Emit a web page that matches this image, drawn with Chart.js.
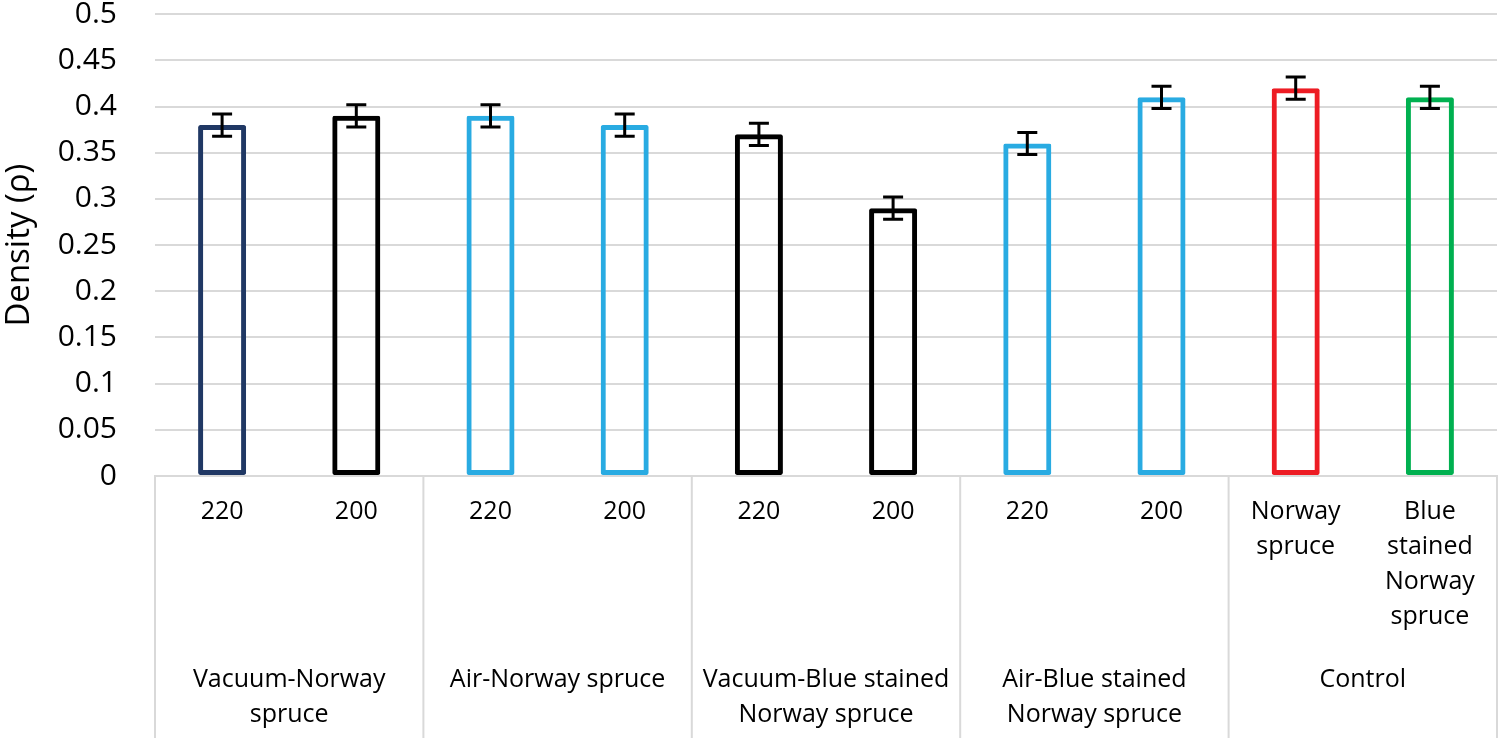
<!DOCTYPE html>
<html>
<head>
<meta charset="utf-8">
<script src="https://cdn.jsdelivr.net/npm/chart.js@4.4.1/dist/chart.umd.min.js"></script>
<style>
  html, body { margin: 0; padding: 0; background: #fff; }
  #wrap { width: 1503px; height: 738px; }
</style>
</head>
<body>
<div id="wrap"><canvas id="densityChart" width="1503" height="738"></canvas></div>
<script>
/* ===== Data ===== */
const subLabels = ["220", "200", "220", "200", "220", "200", "220", "200", ["Norway", "spruce"], ["Blue", "stained", "Norway", "spruce"]];
const groupLabels = [["Vacuum-Norway", "spruce"], ["Air-Norway spruce"], ["Vacuum-Blue stained", "Norway spruce"], ["Air-Blue stained", "Norway spruce"], ["Control"]];
const density = [0.38, 0.39, 0.39, 0.38, 0.37, 0.29, 0.36, 0.41, 0.42, 0.41];
const densityErr = [0.012, 0.012, 0.012, 0.012, 0.012, 0.012, 0.012, 0.012, 0.012, 0.012];
const yTicks = [0, 0.05, 0.1, 0.15, 0.2, 0.25, 0.3, 0.35, 0.4, 0.45, 0.5];

/* ===== Styles ===== */
const barColors = ["#203864", "#000000", "#29abe2", "#29abe2", "#000000", "#000000", "#29abe2", "#29abe2", "#ed1c24", "#00b050"];
const gridColor = "#d9d9d9";
const FONT = "'Open Sans', 'Noto Sans', sans-serif";

/* ===== Plugins ===== */
const errorBars = {
  id: "errorBars",
  afterDatasetsDraw(chart) {
    const { ctx, scales } = chart;
    const meta = chart.getDatasetMeta(0);
    ctx.save();
    ctx.strokeStyle = "#000";
    ctx.lineWidth = 3;
    meta.data.forEach((bar, i) => {
      const top = scales.y.getPixelForValue(density[i] + densityErr[i]);
      const bot = scales.y.getPixelForValue(density[i] - densityErr[i]);
      const x = bar.x;
      ctx.beginPath();
      ctx.moveTo(x, top);
      ctx.lineTo(x, bot);
      ctx.moveTo(x - 10, top);
      ctx.lineTo(x + 10, top);
      ctx.moveTo(x - 10, bot);
      ctx.lineTo(x + 10, bot);
      ctx.stroke();
    });
    ctx.restore();
  },
};

// vertical separators between the outer category groups
const groupSeparators = {
  id: "groupSeparators",
  afterDraw(chart) {
    const { ctx, chartArea, scales } = chart;
    const g = scales.x2;
    const half = (g.getPixelForValue(1) - g.getPixelForValue(0)) / 2;
    ctx.save();
    ctx.strokeStyle = gridColor;
    ctx.lineWidth = 2;
    for (let i = 0; i <= groupLabels.length; i++) {
      const x = i < groupLabels.length ? g.getPixelForValue(i) - half : g.getPixelForValue(i - 1) + half;
      ctx.beginPath();
      ctx.moveTo(x, chartArea.bottom);
      ctx.lineTo(x, chart.height);
      ctx.stroke();
    }
    ctx.restore();
  },
};

/* ===== Chart ===== */
const ctx = document.getElementById("densityChart").getContext("2d");

new Chart(ctx, {
  type: "bar",
  data: {
    labels: subLabels,
    datasets: [
      {
        label: "Density",
        data: density,
        borderColor: barColors,
        backgroundColor: "rgba(0,0,0,0)",
        borderWidth: 5,
        borderSkipped: false,
        borderRadius: 2,
        barPercentage: 0.358,
        categoryPercentage: 1,
      },
    ],
  },
  options: {
    responsive: false,
    animation: false,
    layout: { padding: { top: 14, right: 6, left: 0, bottom: 0 } },
    plugins: { legend: { display: false }, tooltip: { enabled: false } },
    scales: {
      x: {
        position: "bottom",
        weight: 0,
        grid: { display: false, drawTicks: false },
        border: { display: true, color: gridColor, width: 2 },
        ticks: {
          color: "#000",
          font: { family: FONT, size: 25, lineHeight: 1.4 },
          padding: 18,
          autoSkip: false,
          maxRotation: 0,
        },
        afterFit: (scale) => { scale.height = 160; },
      },
      x2: {
        type: "category",
        position: "bottom",
        weight: 1,
        labels: groupLabels,
        offset: true,
        grid: { display: false, drawTicks: false },
        border: { display: false },
        ticks: {
          color: "#000",
          font: { family: FONT, size: 25, lineHeight: 1.4 },
          padding: 26,
          autoSkip: false,
          maxRotation: 0,
        },
        afterFit: (scale) => { scale.height = 102; },
      },
      y: {
        min: 0,
        max: 0.5,
        afterBuildTicks: (scale) => { scale.ticks = yTicks.map((v) => ({ value: v })); },
        // transparent tick marks keep the label gap without padding the top
        grid: { color: gridColor, lineWidth: 2, drawTicks: true, tickLength: 38, tickColor: "rgba(0,0,0,0)" },
        border: { display: false },
        ticks: {
          color: "#000",
          font: { family: FONT, size: 30, lineHeight: 0.95 },
          padding: 0,
          callback: (v) => String(Number(v.toFixed(2))),
        },
        title: {
          display: true,
          text: "Density (ρ)",
          color: "#000",
          font: { family: FONT, size: 33, lineHeight: 1.2 },
          padding: { top: 0, bottom: 0 },
        },
        afterFit: (scale) => { scale.width = 155; },
      },
    },
  },
  plugins: [errorBars, groupSeparators],
});
</script>
</body>
</html>
